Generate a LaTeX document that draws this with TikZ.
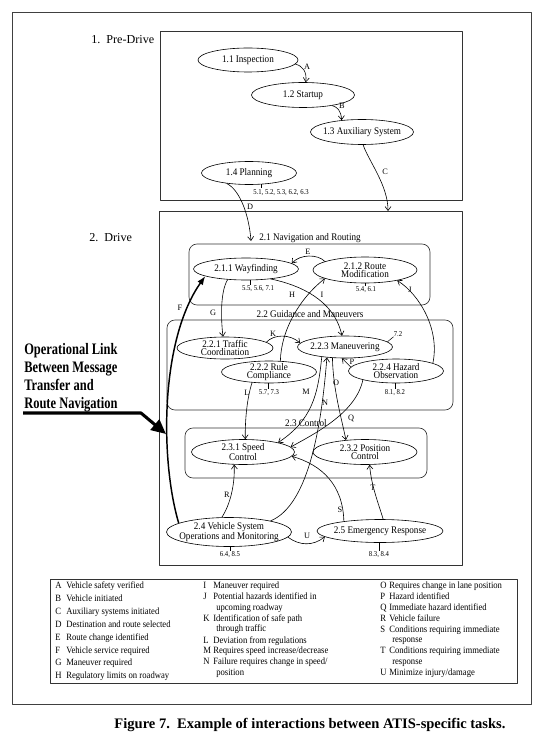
\documentclass[tikz,border=0pt]{standalone}
\usepackage{fontspec}
\setmainfont{Liberation Serif}
\newfontfamily\condserif[FakeStretch=0.9]{Liberation Serif}
\newfontfamily\narrowserif[FakeStretch=0.78]{Liberation Serif}
\usetikzlibrary{arrows.meta,shapes.geometric}
\newcommand\elltext{\condserif\fontsize{7.6pt}{6.4pt}\selectfont}
\newcommand\numtext{\condserif\fontsize{5.6pt}{6pt}\selectfont}
\newcommand\lettext{\fontsize{6.2pt}{7pt}\selectfont}
\newcommand\legtext{\condserif\fontsize{7.2pt}{8pt}\selectfont}
\begin{document}
\begin{tikzpicture}[x=0.75pt,y=-0.75pt,line join=round,
 ell/.style 2 args={draw, ellipse, line width=0.45pt, inner sep=-40pt,
   minimum width=#1*0.75pt, minimum height=#2*0.75pt, align=center, font=\elltext},
 conn/.style={draw, line width=0.45pt, -{Straight Barb[length=3pt,width=4.5pt]}},
 fconn/.style={draw, line width=1.1pt, -{Latex[length=6.5pt,width=5pt]}},
 lab/.style={inner sep=0pt, font=\lettext},
 num/.style={inner sep=0pt, font=\numtext},
 sect/.style={inner sep=0pt, font=\elltext},
 frm/.style={draw=black!75, line width=0.5pt},
 sbox/.style={draw=black!80, line width=0.5pt},
 rbox/.style={draw=black!80, line width=0.5pt, rounded corners=6pt},
 leg/.style={inner sep=0pt, anchor=base west, font=\legtext},
 ttl/.style={inner sep=0pt, anchor=base west, font=\fontsize{9.1pt}{11pt}\selectfont},
 opl/.style={inner sep=0pt, anchor=base west, font=\narrowserif\bfseries\fontsize{12pt}{13.7pt}\selectfont}]
\useasboundingbox (0,0) rectangle (546,752);
\fill[white] (0,0) rectangle (546,752);

% frames
\draw[frm] (12,12) rectangle (531,704);
\draw[sbox] (160,31) rectangle (462,200);
\draw[sbox] (159,211) rectangle (462,565);
\draw[rbox] (189,244) rectangle (430,305);
\draw[rbox] (167,320) rectangle (453,410);
\draw[rbox] (185,428) rectangle (427,478);

\node[ttl] (tpre) at (91,43.5) {1.\ \ Pre-Drive};
\node[ttl] (tdrive) at (89,241) {2.\ \ Drive};

\node[sect] (l21) at (310,238) {2.1 Navigation and Routing};
\node[sect] (l22) at (310,314) {2.2 Guidance and Maneuvers};
\node[sect] (l23) at (306,423) {2.3 Control};

% ellipses
\node[ell={100}{24}] (i11) at (248,60) {1.1 Inspection};
\node[ell={103}{25}] (i12) at (303,95) {1.2 Startup};
\node[ell={103}{25}] (i13) at (362,132) {1.3 Auxiliary System};
\node[ell={95}{23}] (i14) at (249,173) {1.4 Planning};
\node[ell={105}{22}] (n211) at (246,269) {2.1.1 Wayfinding};
\node[ell={104}{26}] (n212) at (365,270) {2.1.2 Route\\Modification};
\node[ell={96}{22}] (n221) at (225,348) {2.2.1 Traffic\\Coordination};
\node[ell={95}{22}] (n223) at (345,347) {2.2.3 Maneuvering};
\node[ell={95}{22}] (n222) at (269,372) {2.2.2 Rule\\Compliance};
\node[ell={95}{24}] (n224) at (396,371) {2.2.4 Hazard\\Observation};
\node[ell={103}{25}] (n231) at (243,452) {2.3.1 Speed\\Control};
\node[ell={104}{25}] (n232) at (365,452) {2.3.2 Position\\Control};
\node[ell={125}{29}] (n24) at (229,532) {2.4 Vehicle System\\Operations and Monitoring};
\node[ell={126}{23}] (n25) at (380,531) {2.5 Emergency Response};

% reference numbers
\node[num] (t14) at (281,193) {5.1, 5.2, 5.3, 6.2, 6.3};
\draw[line width=0.4pt] (261,184.2) -- (261,188.5);
\node[num] (t211) at (258,289) {5.5, 5.6, 7.1};
\draw[line width=0.4pt] (250,279.8) -- (250,284.5);
\node[num] (t212) at (366,290) {5.4, 6.1};
\draw[line width=0.4pt] (365,283) -- (365,286);
\node[num] (t222) at (269,393) {5.7, 7.3};
\draw[line width=0.4pt] (268,383) -- (268,388.5);
\node[num] (t224) at (395,393) {8.1, 8.2};
\draw[line width=0.4pt] (395,383) -- (395,388.5);
\node[num] (t24) at (230,555) {6.4, 8.5};
\draw[line width=0.4pt] (230,546.5) -- (230,550.5);
\node[num] (t25) at (379,555) {8.3, 8.4};
\draw[line width=0.4pt] (379,542.5) -- (379,550.5);
\node[num] (t72) at (398,334) {7.2};
\draw[line width=0.4pt] (n223.7) -- (t72.south west);

% named free ends
\coordinate (cEnd) at (388,211);
\coordinate (dEnd) at (251,241);

% connectors
\draw[conn] (i11.-5) .. controls (303,66) and (307,72) .. (i12.78);
\draw[conn] (i12.-20) .. controls (337,107) and (341,110) .. (i13.150);
\draw[conn] (i13.-85) .. controls (368,160) and (388,185) .. (cEnd);
\draw[conn] (i14.205) .. controls (240,190) and (249,215) .. (dEnd);
\draw[conn] (n212.168) .. controls (318,254) and (300,254) .. (n211.7);
\draw[fconn] (n24.170) .. controls (160,460) and (160,340) .. (n211.190);
\draw[conn] (n211.-150) .. controls (220,292) and (221,320) .. (n221.100);
\draw[conn] (n222.44) .. controls (281,330) and (300,298) .. (n212.192);
\draw[conn] (n211.-22) .. controls (300,285) and (334,300) .. (n223.105);
\draw[conn] (n224.12) .. controls (440,330) and (420,295) .. (n212.-18);
\draw[conn] (n221.8) .. controls (274,334) and (290,334) .. (n223.175);
\draw[conn] (n222.-148) .. controls (247,398) and (245,420) .. (n231.80);
\draw[conn] (n223.203) .. controls (318,395) and (312,420) .. (n231.15);
\draw[conn] (n24.15) .. controls (310,505) and (322,420) .. (n223.210);
\draw[conn] (n223.221) .. controls (333,390) and (342,420) .. (n232.148);
\draw[conn] (n224.175) -- (n223.255);
\draw[conn] (n224.195) .. controls (356,412) and (318,432) .. (n231.6);
\draw[conn] (n24.116) .. controls (230,505) and (235,485) .. (n231.-125);
\draw[conn] (n25.165) .. controls (343,485) and (322,465) .. (n231.-5);
\draw[conn] (n25.75) .. controls (379,505) and (371,485) .. (n232.-70);
\draw[conn] (n24.-5) .. controls (300,546) and (313,546) .. (n25.186);

% connector letters
\node[lab] (la) at (307,67) {A};
\node[lab] (lb) at (342,106) {B};
\node[lab] (lc) at (385,172) {C};
\node[lab] (ld) at (250,207) {D};
\node[lab] (le) at (308,252) {E};
\node[lab] (lf) at (180,308) {F};
\node[lab] (lg) at (213,313) {G};
\node[lab] (lh) at (292,295) {H};
\node[lab] (li) at (322,295) {I};
\node[lab] (lj) at (410,290) {J};
\node[lab] (lk) at (273,334) {K};
\node[lab] (ll) at (247,393) {L};
\node[lab] (lm) at (306,392) {M};
\node[lab] (ln) at (325,403) {N};
\node[lab] (lo) at (336,383) {O};
\node[lab] (lp) at (352,362) {P};
\node[lab] (lq) at (351,418) {Q};
\node[lab] (lr) at (227,495) {R};
\node[lab] (ls) at (340,510) {S};
\node[lab] (lt) at (373,488) {T};
\node[lab] (lu) at (307,536) {U};

% operational link callout
\node[opl] (ol1) at (24,354) {Operational Link};
\node[opl] (ol2) at (24,372.3) {Between Message};
\node[opl] (ol3) at (24,390.6) {Transfer and};
\node[opl] (ol4) at (24,408.9) {Route Navigation};
\coordinate (olA) at (23,413);
\coordinate (olB) at (141,413);
\coordinate (olC) at (166,434);
\draw[line width=2.3pt, -{Triangle[length=11pt,width=10pt]}] (olA) -- (olB) -- (olC);

% legend
\draw[sbox] (50,579) rectangle (517,683);
\node[leg] (kA) at (55,588.7) {A}; \node[leg] (xA) at (66,588.7) {Vehicle safety verified};
\node[leg] (kB) at (55,601.6) {B}; \node[leg] (xB) at (66,601.6) {Vehicle initiated};
\node[leg] (kC) at (55,614.4) {C}; \node[leg] (xC) at (66,614.4) {Auxiliary systems initiated};
\node[leg] (kD) at (55,627.3) {D}; \node[leg] (xD) at (66,627.3) {Destination and route selected};
\node[leg] (kE) at (55,640.1) {E}; \node[leg] (xE) at (66,640.1) {Route change identified};
\node[leg] (kF) at (55,653.0) {F}; \node[leg] (xF) at (66,653.0) {Vehicle service required};
\node[leg] (kG) at (55,665.8) {G}; \node[leg] (xG) at (66,665.8) {Maneuver required};
\node[leg] (kH) at (55,678.7) {H}; \node[leg] (xH) at (66,678.7) {Regulatory limits on roadway};

\node[leg] (kI) at (203,588.7) {I}; \node[leg] (xI) at (213,588.7) {Maneuver required};
\node[leg] (kJ) at (203,599.7) {J}; \node[leg] (xJ) at (213,599.7) {Potential hazards identified in};
\node[leg] (xJ2) at (216,610.2) {upcoming roadway};
\node[leg] (kK) at (203,621.2) {K}; \node[leg] (xK) at (213,621.2) {Identification of safe path};
\node[leg] (xK2) at (216,631.7) {through traffic};
\node[leg] (kL) at (203,643.2) {L}; \node[leg] (xL) at (213,643.2) {Deviation from regulations};
\node[leg] (kM) at (203,653.7) {M}; \node[leg] (xM) at (213,653.7) {Requires speed increase/decrease};
\node[leg] (kN) at (203,664.2) {N}; \node[leg] (xN) at (213,664.2) {Failure requires change in speed/};
\node[leg] (xN2) at (216,675.2) {position};

\node[leg] (kO) at (380,588.7) {O}; \node[leg] (xO) at (389,588.7) {Requires change in lane position};
\node[leg] (kP) at (380,599.7) {P}; \node[leg] (xP) at (389,599.7) {Hazard identified};
\node[leg] (kQ) at (380,610.7) {Q}; \node[leg] (xQ) at (389,610.7) {Immediate hazard identified};
\node[leg] (kR) at (380,621.7) {R}; \node[leg] (xR) at (389,621.7) {Vehicle failure};
\node[leg] (kS) at (380,632.7) {S}; \node[leg] (xS) at (389,632.7) {Conditions requiring immediate};
\node[leg] (xS2) at (392,642.7) {response};
\node[leg] (kT) at (380,653.7) {T}; \node[leg] (xT) at (389,653.7) {Conditions requiring immediate};
\node[leg] (xT2) at (392,664.2) {response};
\node[leg] (kU) at (380,675.2) {U}; \node[leg] (xU) at (389,675.2) {Minimize injury/damage};

% caption
\node[inner sep=0pt, font=\bfseries\fontsize{10.9pt}{12pt}\selectfont] (caption) at (310,725)
  {Figure 7.\ \ Example of interactions between ATIS-specific tasks.};
\end{tikzpicture}
\end{document}
